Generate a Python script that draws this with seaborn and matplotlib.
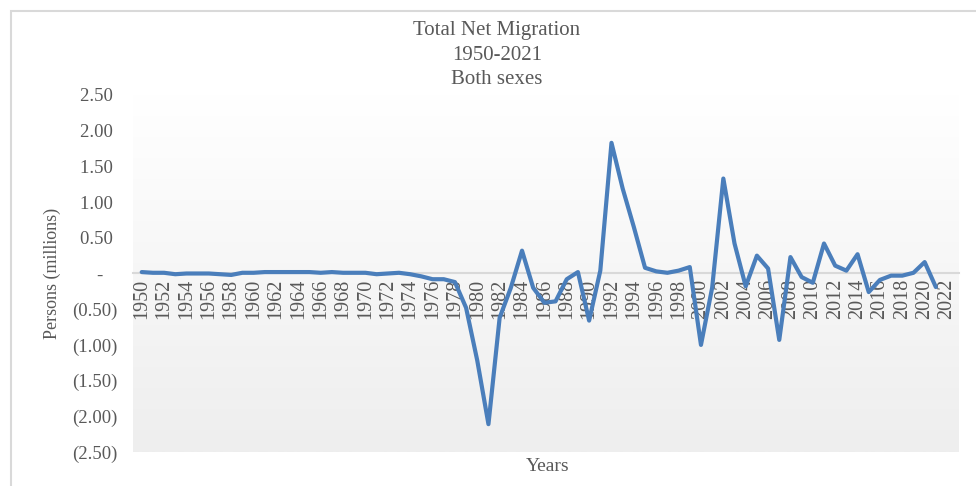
import numpy as np
import pandas as pd
import matplotlib
matplotlib.use("Agg")
import matplotlib.pyplot as plt
from matplotlib.ticker import FuncFormatter
from matplotlib.patches import Rectangle
import seaborn as sns

# net migration, millions of persons
years = list(range(1950, 2022))
net_migration = [
    0.02, 0.01, 0.01, -0.01, 0.00, 0.00, 0.00, -0.01, -0.02, 0.01,
    0.01, 0.02, 0.02, 0.02, 0.02, 0.02, 0.01, 0.02, 0.01, 0.01,
    0.01, -0.01, 0.00, 0.01, -0.01, -0.04, -0.08, -0.08, -0.12, -0.48,
    -1.22, -2.11, -0.62, -0.20, 0.32, -0.20, -0.41, -0.39, -0.08, 0.02,
    -0.66, 0.04, 1.83, 1.19, 0.65, 0.08, 0.03, 0.01, 0.04, 0.09,
    -1.00, -0.20, 1.33, 0.42, -0.18, 0.25, 0.07, -0.93, 0.23, -0.05,
    -0.13, 0.42, 0.11, 0.04, 0.27, -0.26, -0.09, -0.03, -0.03, 0.01,
    0.16, -0.19,
]
tick_years = list(range(1950, 2023, 2))
title_lines = ["Total Net Migration", "1950-2021", "Both sexes"]

df = pd.DataFrame({"Years": years, "Persons": net_migration})

sns.set_theme(style="white")
plt.rcParams["font.family"] = ["Liberation Serif", "DejaVu Serif"]
gray = "#595959"

fig = plt.figure(figsize=(9.76, 4.86), dpi=100)
W, H = 976, 486
ax = fig.add_axes([133 / W, 1 - 452 / H, (959 - 133) / W, (452 - 95) / H])

# chart area border
fig.patches.append(Rectangle((11 / W, -0.1), 1.2, 1 - 11 / H + 0.1,
                             transform=fig.transFigure, fill=False,
                             edgecolor="#d9d9d9", linewidth=1.5))

# plot area gradient
grad = np.linspace(0, 1, 256).reshape(-1, 1)
cmap = matplotlib.colors.LinearSegmentedColormap.from_list("bg", ["#ffffff", "#eeeeee"])
ax.imshow(grad, extent=[0, 1, 0, 1], transform=ax.transAxes, cmap=cmap,
          aspect="auto", zorder=0, origin="upper")

sns.lineplot(data=df, x="Years", y="Persons", ax=ax, color="#4a7ebb",
             linewidth=3.0, zorder=3)

for s in ["top", "right", "left"]:
    ax.spines[s].set_visible(False)
ax.spines["bottom"].set_position(("data", 0))
ax.spines["bottom"].set_color("#d9d9d9")
ax.spines["bottom"].set_linewidth(1.5)
ax.spines["bottom"].set_zorder(2)
ax.grid(False)

ax.set_xlim(1950 - 0.78, 2022 + 1.07)
ax.set_ylim(-2.5, 2.5)
ax.set_yticks(np.arange(-2.5, 2.51, 0.5))
ax.set_xticks(tick_years)
ax.set_xticklabels([str(y) for y in tick_years])


def acct(v, pos):
    if abs(v) < 1e-9:
        return "-   "
    if v < 0:
        return f"({abs(v):.2f})"
    return f"{v:.2f} "


ax.yaxis.set_major_formatter(FuncFormatter(acct))

ax.tick_params(axis="y", length=0, pad=11, labelsize=13.5, labelcolor=gray)
ax.tick_params(axis="x", length=0, pad=4, labelsize=14.5, labelcolor=gray,
               labelrotation=90)

ax.set_ylabel("Persons (millions)", fontsize=13, color=gray, labelpad=8)
ax.set_xlabel("")
fig.text(548 / W, 1 - 466 / H, "Years", ha="center", va="center",
         fontsize=14, color=gray)

for i, line in enumerate(title_lines):
    fig.text(497 / W, 1 - (31 + 24.5 * i) / H, line, ha="center", va="center",
             fontsize=15, color=gray)

fig.savefig("out.png", dpi=100)
